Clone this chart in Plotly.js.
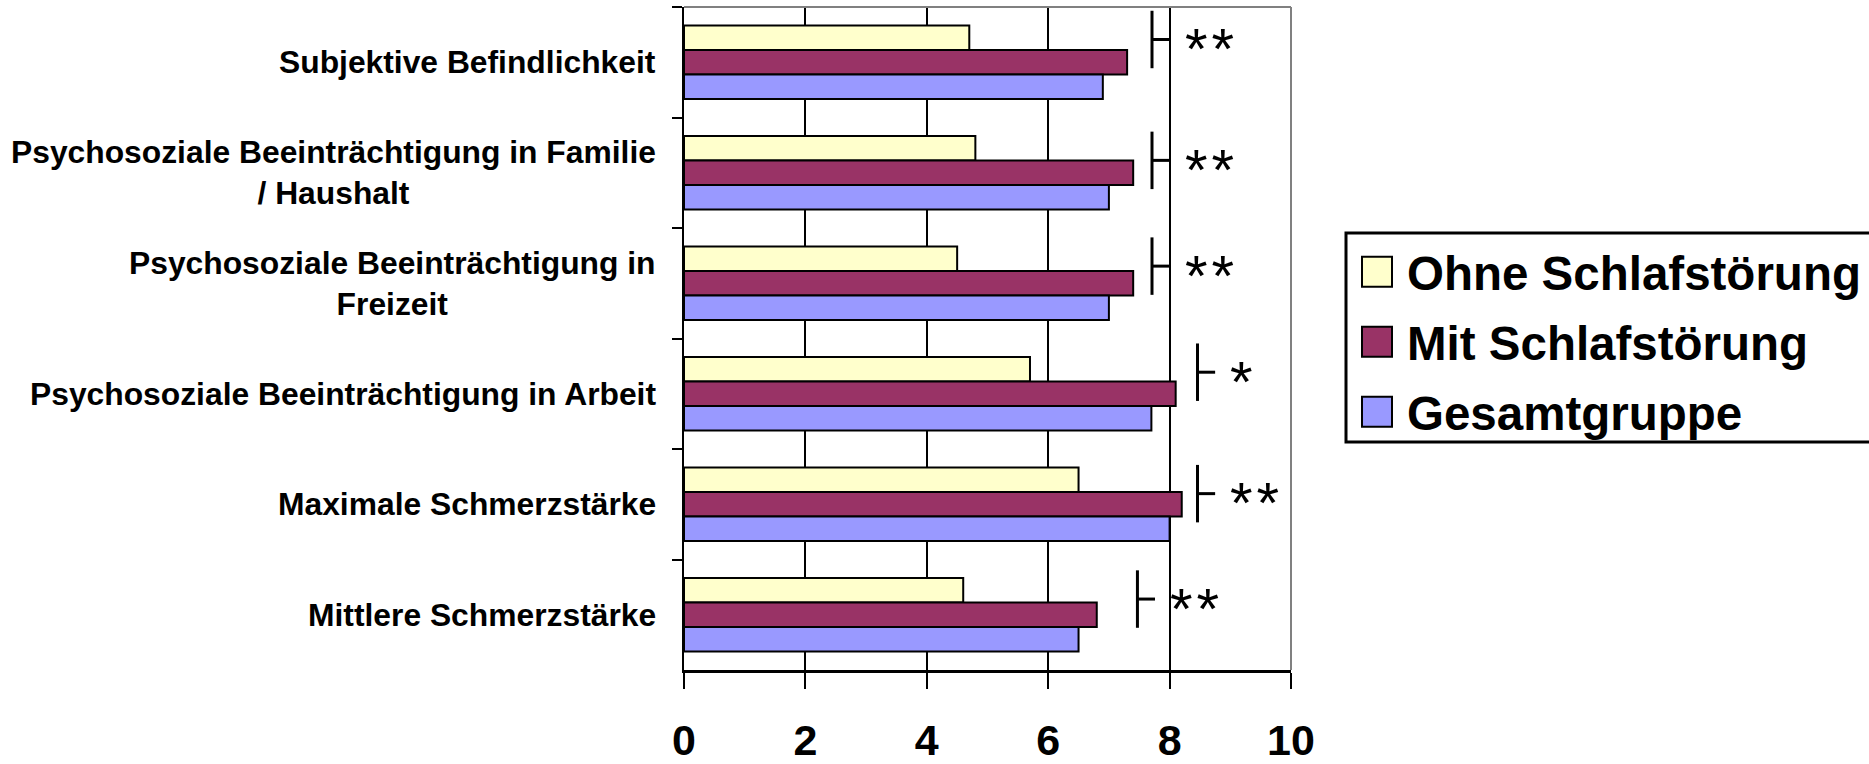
<!DOCTYPE html>
<html>
<head>
<meta charset="utf-8">
<script src="https://cdn.plot.ly/plotly-3.0.1.min.js"></script>
<style>
  html, body { margin: 0; padding: 0; background: #ffffff; }
  #chart { width: 1869px; height: 764px; }
</style>
</head>
<body>
<div id="chart"></div>
<script>
// Categories, top to bottom
const categories = [
  'Subjektive Befindlichkeit',
  'Psychosoziale Beeinträchtigung in Familie<br>/ Haushalt',
  'Psychosoziale Beeinträchtigung in<br>Freizeit',
  'Psychosoziale Beeinträchtigung in Arbeit',
  'Maximale Schmerzstärke',
  'Mittlere Schmerzstärke'
];

// Mean scores per group
const ohneSchlafstoerung = [4.7, 4.8, 4.5, 5.7, 6.5, 4.6];
const mitSchlafstoerung  = [7.3, 7.4, 7.4, 8.1, 8.2, 6.8];
const gesamtgruppe       = [6.9, 7.0, 7.0, 7.7, 8.0, 6.5];

const seriesNames  = ['Ohne Schlafstörung', 'Mit Schlafstörung', 'Gesamtgruppe'];
const seriesValues = [ohneSchlafstoerung, mitSchlafstoerung, gesamtgruppe];
const seriesColors = ['#FFFFCC', '#993366', '#9999FF'];

const xTickValues = [0, 2, 4, 6, 8, 10];

// Significance marks (Ohne vs. Mit Schlafstörung)
const significance = ['**', '**', '**', '*', '**', '**'];

// Placement of the significance brackets: x of the vertical stroke (axis units)
// and vertical centre relative to the category centre (category units)
const bracketX      = [7.71, 7.71, 7.71, 8.46, 8.46, 7.47];
const bracketOffset = [-0.206, -0.112, -0.155, -0.195, -0.096, -0.142];
const BRACKET_HALF = 0.26;
const BRACKET_TICK = 0.29;
const MARK_GAP = 0.22;

const FONT = 'Liberation Sans, Arial, Helvetica, sans-serif';

// Plot area in pixels
const W = 1869, H = 764;
const PL = 684, PR = 1291, PT = 7, PB = 670;
const px2x = p => (p - PL) / (PR - PL);
const py2y = p => (PB - p) / (PB - PT);

const traces = seriesNames.map((name, k) => ({
  type: 'bar',
  orientation: 'h',
  name: name,
  y: categories,
  x: seriesValues[k],
  marker: { color: seriesColors[k], line: { color: '#000000', width: 2 } },
  hoverinfo: 'x+name'
}));

const shapes = [];
const annotations = [];

// Grey frame on top and right of the plot area
shapes.push({ type: 'line', xref: 'paper', yref: 'paper', x0: 0, x1: 1, y0: 1, y1: 1,
              line: { color: '#808080', width: 2 }, layer: 'above' });
shapes.push({ type: 'line', xref: 'paper', yref: 'paper', x0: 1, x1: 1, y0: 0, y1: 1,
              line: { color: '#808080', width: 2 }, layer: 'above' });

// Category labels, centred lines, right-aligned to the axis
categories.forEach((c, i) => {
  annotations.push({
    xref: 'paper', yref: 'y', x: 0, y: i, xanchor: 'right', yanchor: 'middle',
    xshift: -26, align: 'center', showarrow: false, text: c,
    font: { family: FONT, size: 31.8, weight: 'bold', color: '#000000' }
  });
});

// Significance brackets and stars
categories.forEach((c, i) => {
  const yc = i + bracketOffset[i];
  shapes.push({ type: 'line', xref: 'x', yref: 'y',
                x0: bracketX[i], x1: bracketX[i], y0: yc - BRACKET_HALF, y1: yc + BRACKET_HALF,
                line: { color: '#000000', width: 3 } });
  shapes.push({ type: 'line', xref: 'x', yref: 'y',
                x0: bracketX[i], x1: bracketX[i] + BRACKET_TICK, y0: yc, y1: yc,
                line: { color: '#000000', width: 3 } });
  annotations.push({
    xref: 'x', yref: 'y', x: bracketX[i] + BRACKET_TICK + MARK_GAP, y: yc,
    xanchor: 'left', yanchor: 'middle', yshift: -9, showarrow: false,
    text: '<span style="letter-spacing:4px">' + significance[i] + '</span>',
    font: { family: FONT, size: 58, color: '#000000' }
  });
});

// Legend box
shapes.push({ type: 'rect', xref: 'paper', yref: 'paper',
              x0: px2x(1346), x1: px2x(1900), y0: py2y(442), y1: py2y(233),
              line: { color: '#000000', width: 3 }, fillcolor: '#ffffff' });
seriesNames.forEach((name, k) => {
  const cy = 271.7 + 70 * k;
  shapes.push({ type: 'rect', xref: 'paper', yref: 'paper',
                x0: px2x(1362), x1: px2x(1392), y0: py2y(cy + 15), y1: py2y(cy - 15),
                line: { color: '#000000', width: 2 }, fillcolor: seriesColors[k] });
  annotations.push({
    xref: 'paper', yref: 'paper', x: px2x(1405), y: py2y(cy + 2),
    xanchor: 'left', yanchor: 'middle', showarrow: false, text: name,
    font: { family: FONT, size: 47.5, weight: 'bold', color: '#000000' }
  });
});

const layout = {
  width: W, height: H, autosize: false,
  margin: { l: PL, r: W - PR, t: PT, b: H - PB, pad: 0 },
  paper_bgcolor: '#ffffff', plot_bgcolor: '#ffffff',
  showlegend: false,
  barmode: 'group', bargap: 0.333, bargroupgap: 0,
  font: { family: FONT, color: '#000000' },
  xaxis: {
    range: [0, 10], autorange: false, tickvals: xTickValues, ticktext: xTickValues.map(String),
    ticks: 'outside', ticklen: 16, tickwidth: 2, tickcolor: '#000000',
    showgrid: true, gridcolor: '#000000', gridwidth: 2,
    showline: true, linecolor: '#000000', linewidth: 3, zeroline: false,
    tickfont: { family: FONT, size: 43, weight: 'bold', color: '#000000' },
    ticklabelstandoff: 14, fixedrange: true
  },
  yaxis: {
    type: 'category', range: [categories.length - 0.5, -0.5], autorange: false,
    categoryorder: 'array', categoryarray: categories,
    showticklabels: false, ticks: 'outside', ticklen: 10, tickwidth: 2, tickcolor: '#000000',
    tickson: 'boundaries', showgrid: false, zeroline: false,
    showline: true, linecolor: '#000000', linewidth: 2, fixedrange: true
  },
  shapes: shapes,
  annotations: annotations
};

Plotly.newPlot('chart', traces, layout, { displayModeBar: false, staticPlot: true });
</script>
</body>
</html>
